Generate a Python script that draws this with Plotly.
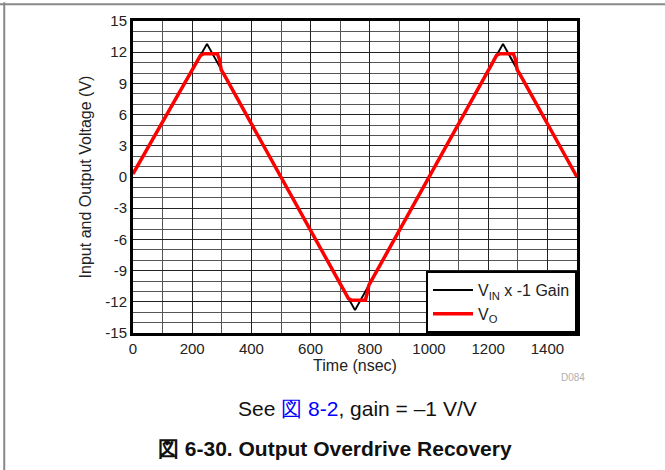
import plotly.graph_objects as go

# V_IN x -1 gain (triangle input, inverted)
t_in = [0, 250, 750, 1250, 1500]
v_in = [0.3, 12.8, -12.8, 12.8, 0.0]

# V_O output, clipping near +/-11.85 V then recovering
t_out = [0, 215, 228, 240, 285, 292, 298, 306,
         700, 715, 728, 740, 785, 790, 797,
         1215, 1228, 1240, 1285, 1292, 1298, 1306, 1500]
v_out = [0.3, 11.1, 11.7, 11.85, 11.85, 11.3, 10.3, 9.93,
         -10.24, -11.1, -11.7, -11.85, -11.85, -11.3, -10.4,
         11.0, 11.7, 11.85, 11.85, 11.3, 10.3, 9.93, 0.0]

y_ticks = [-15, -12, -9, -6, -3, 0, 3, 6, 9, 12, 15]
y_labels = ["-15", "-12", "-9", "-6", "-3", "0", "3", "6", "9", "12", "15"]
x_ticks = [0, 200, 400, 600, 800, 1000, 1200, 1400]

font = "Liberation Sans, Arial, sans-serif"

fig = go.Figure()
fig.add_trace(go.Scatter(x=t_in, y=v_in, mode="lines", name="V<sub>IN</sub> x -1 Gain",
                         line=dict(color="black", width=2)))
fig.add_trace(go.Scatter(x=t_out, y=v_out, mode="lines", name="V<sub>O</sub>",
                         line=dict(color="#ff0000", width=3.5)))

fig.update_xaxes(range=[0, 1500], tickvals=x_ticks, showgrid=True, gridcolor="#222", gridwidth=1,
                 minor=dict(dtick=100, showgrid=True, gridcolor="#555", gridwidth=1),
                 zeroline=False, showline=True, mirror=True, linecolor="black", linewidth=3,
                 ticks="", tickfont=dict(size=15, color="#222"),
                 title=dict(text="Time (nsec)", font=dict(size=16, color="#222"), standoff=2))
fig.update_yaxes(range=[-15, 15], tickvals=y_ticks, ticktext=y_labels, showgrid=True,
                 gridcolor="#222", gridwidth=1,
                 minor=dict(dtick=1, showgrid=True, gridcolor="#555", gridwidth=1),
                 zeroline=False, showline=True, mirror=True, linecolor="black", linewidth=3,
                 ticks="", tickfont=dict(size=15, color="#222"),
                 title=dict(text="Input and Output Voltage (V)", font=dict(size=16, color="#222"),
                            standoff=10))

fig.update_layout(
    width=665, height=470,
    margin=dict(l=133, r=88, t=18, b=137),
    paper_bgcolor="white", plot_bgcolor="white",
    font=dict(family=font, color="#222"),
    showlegend=True,
    legend=dict(x=1, y=0, xanchor="right", yanchor="bottom", bgcolor="white",
                bordercolor="black", borderwidth=2, font=dict(size=16, color="#222"),
                tracegroupgap=0, itemwidth=40),
)

fig.add_annotation(text="D084", xref="paper", yref="paper", x=1.023, y=-0.168,
                   showarrow=False, font=dict(size=10, color="#b0b0b0"))
fig.add_annotation(text="See <span style='color:#0000ff'>図 8-2</span>, gain = –1 V/V",
                   xref="paper", yref="paper", x=0.506, y=-0.286, showarrow=False,
                   font=dict(size=21, color="#111"))
fig.add_annotation(text="<b>図 6-30. Output Overdrive Recovery</b>",
                   xref="paper", yref="paper", x=0.455, y=-0.412, showarrow=False,
                   font=dict(size=21, color="#111"))

# page frame lines (top and left)
fig.add_shape(type="line", xref="paper", yref="paper", x0=-0.3, x1=1.3, y0=1.054, y1=1.054,
              line=dict(color="#888", width=2))
fig.add_shape(type="line", xref="paper", yref="paper", x0=-0.29, x1=-0.29, y0=-0.5, y1=1.06,
              line=dict(color="#888", width=2))

fig.write_html("out.html", config={"displayModeBar": False},
               post_script="document.body.style.margin='0';")
